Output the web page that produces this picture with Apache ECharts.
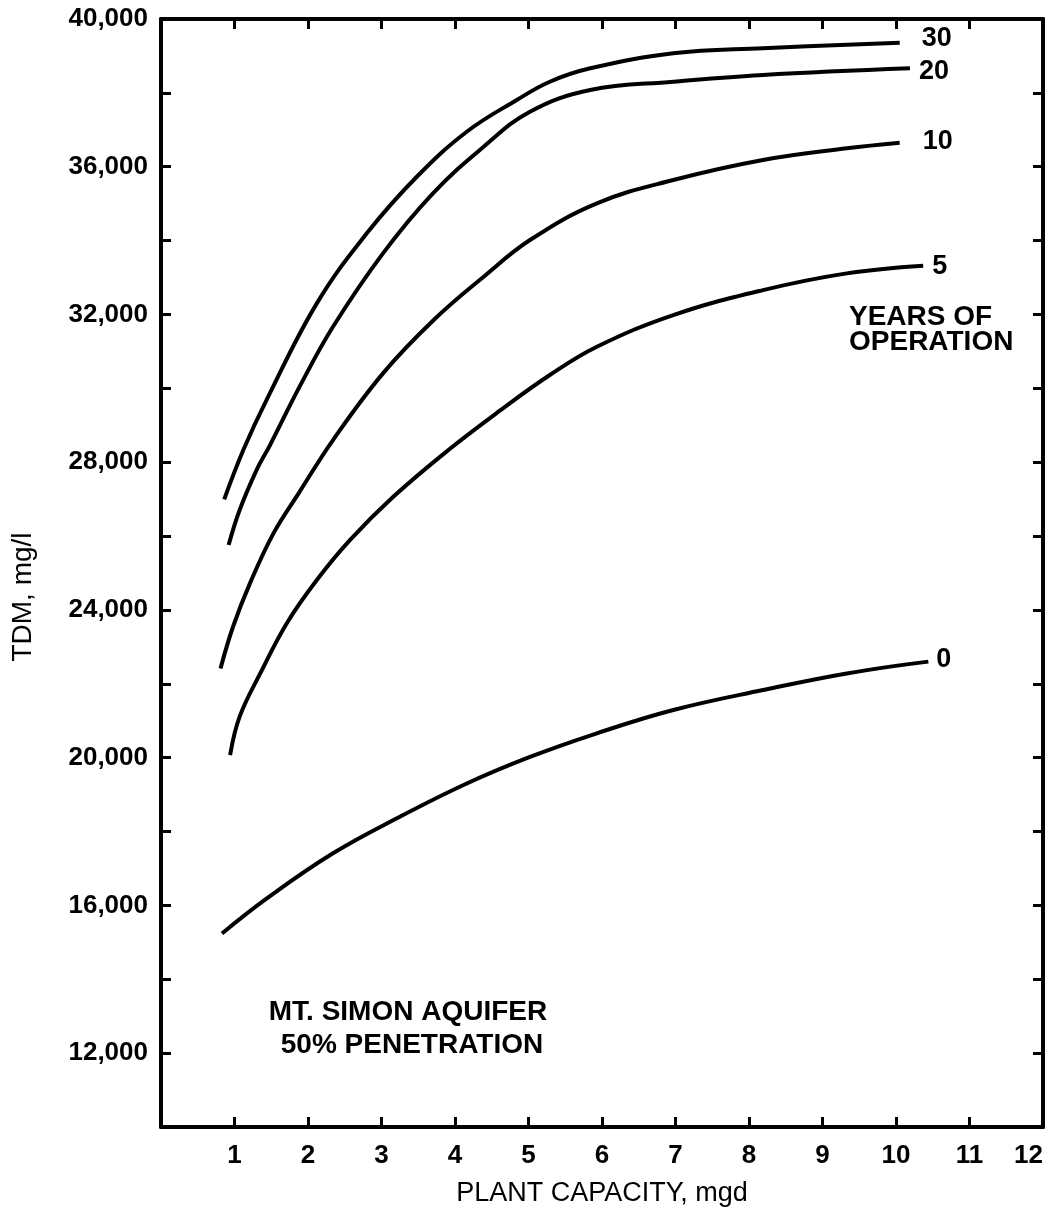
<!DOCTYPE html>
<html>
<head>
<meta charset="utf-8">
<script src="https://cdn.jsdelivr.net/npm/echarts@6/dist/echarts.min.js"></script>
<style>
html, body { margin: 0; padding: 0; background: #fff; }
#chart { width: 1054px; height: 1217px; }
</style>
</head>
<body>
<div id="chart"></div>
<script>
// years of operation, one curve each
var years = ['0', '5', '10', '20', '30']

// plant capacity (mgd) and TDM (mg/l)
var cap0 = [0.83, 1.44, 2.34, 3.25, 4.16, 5.02, 5.93, 6.97, 8.19, 9.33, 10.44]
var tdm0 = [15240, 16190, 17410, 18400, 19300, 20020, 20660, 21290, 21830, 22280, 22600]

var cap5 = [0.94, 1.07, 1.35, 1.71, 2.12, 2.57, 3.16, 3.91, 4.6, 5.29, 5.93, 6.97, 8.19, 9.33, 10.37]
var tdm5 = [20070, 21110, 22280, 23635, 24810, 25890, 27064, 28330, 29380, 30360, 31126, 31984, 32660, 33113, 33320]

var cap10 = [0.81, 0.98, 1.21, 1.53, 1.87, 2.34, 3.02, 3.71, 4.39, 5.02, 5.93, 6.97, 8.19, 9.33, 10.05]
var tdm10 = [22416, 23544, 24718, 26072, 27150, 28600, 30405, 31850, 33022, 34015, 35009, 35640, 36182, 36498, 36650]

var cap20 = [0.92, 1.07, 1.3, 1.48, 1.9, 2.34, 3.02, 3.7, 4.39, 5.02, 5.84, 6.97, 8.19, 10.19]
var tdm20 = [25756, 26704, 27787, 28450, 30100, 31668, 33655, 35280, 36542, 37490, 38077, 38302, 38484, 38665]

var cap30 = [0.86, 1.12, 1.44, 2.12, 2.8, 3.48, 4.16, 4.84, 5.29, 5.84, 6.97, 8.19, 10.05]
var tdm30 = [26993, 28329, 29700, 32301, 34197, 35729, 36948, 37807, 38302, 38665, 39071, 39207, 39358]

var xTicks = [1, 2, 3, 4, 5, 6, 7, 8, 9, 10, 11, 12]
var yTicks = [12000, 16000, 20000, 24000, 28000, 32000, 36000, 40000]

function pairs (xs, ys) {
  return xs.map(function (x, i) { return [x, ys[i]] })
}

var font = 'Liberation Sans, Arial, Helvetica, sans-serif'

function curve (name, xs, ys, dist, dy) {
  return {
    name: name,
    type: 'line',
    smooth: 0.4,
    showSymbol: false,
    lineStyle: { color: '#000', width: 4 },
    data: pairs(xs, ys),
    endLabel: {
      show: true,
      formatter: name,
      distance: dist,
      offset: [0, dy],
      color: '#000',
      fontFamily: font,
      fontWeight: 'bold',
      fontSize: 27
    }
  }
}

// box frame: all four sides carry inward ticks
function frameAxis () {
  return {
    axisLine: { show: true, onZero: false, lineStyle: { color: '#000', width: 4 } },
    axisTick: { show: true, inside: true, length: 10, lineStyle: { color: '#000', width: 3 } },
    splitLine: { show: false }
  }
}

function note (text, x, y, align) {
  return {
    type: 'text', x: x, y: y,
    style: {
      text: text, fill: '#000', font: 'bold 28px ' + font,
      textAlign: align, align: align, textVerticalAlign: 'middle', verticalAlign: 'middle'
    }
  }
}

var chart = echarts.init(document.getElementById('chart'))
chart.setOption({
  animation: false,
  backgroundColor: '#fff',
  grid: { left: 161, top: 19, width: 882, height: 1108, outerBoundsMode: 'none', containLabel: false },
  xAxis: [
    Object.assign(frameAxis(), {
      type: 'value', min: 0, max: 12, interval: 1, position: 'bottom',
      axisLabel: {
        margin: 16, color: '#000', fontFamily: font, fontWeight: 'bold', fontSize: 26,
        alignMaxLabel: 'right',
        formatter: function (v) { return xTicks.indexOf(v) >= 0 ? String(v) : '' }
      },
      name: 'PLANT CAPACITY, mgd', nameLocation: 'middle', nameGap: 53,
      nameTextStyle: { color: '#000', fontFamily: font, fontSize: 27 }
    }),
    Object.assign(frameAxis(), {
      type: 'value', min: 0, max: 12, interval: 1, position: 'top',
      axisLabel: { show: false }
    })
  ],
  yAxis: [
    Object.assign(frameAxis(), {
      type: 'value', min: 10000, max: 40000, interval: 2000, position: 'left',
      axisLabel: {
        margin: 13, color: '#000', fontFamily: font, fontWeight: 'bold', fontSize: 26,
        formatter: function (v) { return yTicks.indexOf(v) >= 0 ? v.toLocaleString('en-US') : '' }
      },
      name: 'TDM, mg/l', nameLocation: 'middle', nameGap: 124, nameRotate: 90,
      nameTextStyle: { color: '#000', fontFamily: font, fontSize: 28, padding: [0, 48, 0, 0] }
    }),
    Object.assign(frameAxis(), {
      type: 'value', min: 10000, max: 40000, interval: 2000, position: 'right',
      axisLabel: { show: false }
    })
  ],
  graphic: [
    note('YEARS OF', 849, 317, 'left'),
    note('OPERATION', 849, 342, 'left'),
    note('MT. SIMON AQUIFER', 408, 1012, 'center'),
    note('50% PENETRATION', 412, 1045, 'center')
  ],
  series: [
    curve(years[0], cap0, tdm0, 8, -2),
    curve(years[1], cap5, tdm5, 9, 1),
    curve(years[2], cap10, tdm10, 23, -1),
    curve(years[3], cap20, tdm20, 9, 3),
    curve(years[4], cap30, tdm30, 22, -4)
  ]
})
</script>
</body>
</html>
